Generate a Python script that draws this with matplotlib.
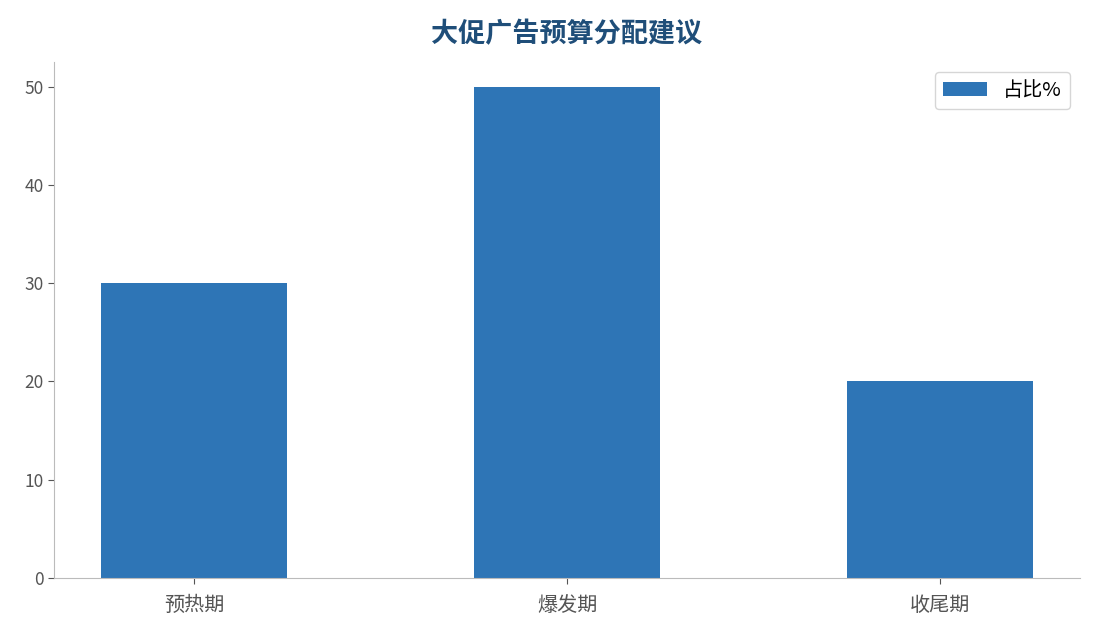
import matplotlib.pyplot as plt

plt.rcParams['font.family'] = ['Noto Sans CJK SC', 'DejaVu Sans']

stages = ['预热期', '爆发期', '收尾期']
share = [30, 50, 20]
title = '大促广告预算分配建议'
series_name = '占比%'

fig = plt.figure(figsize=(10.95, 6.3), dpi=100)
ax = fig.add_axes([0.0493, 0.0825, 0.9370, 0.8191])

ax.bar(range(len(stages)), share, width=0.5, color='#2E75B6', label=series_name)
ax.set_xticks(range(len(stages)))
ax.set_xticklabels(stages)
ax.set_xlim(-0.375, 2.375)
ax.set_ylim(0, 52.5)

for side in ['top', 'right']:
    ax.spines[side].set_visible(False)
for side in ['left', 'bottom']:
    ax.spines[side].set_color('#BBBBBB')
ax.tick_params(colors='#555555', labelsize=12.5, length=4)
ax.tick_params(axis='x', labelsize=14.5, pad=8)

ax.set_title(title, fontsize=19.5, fontweight='bold', color='#1F4E79', pad=14)
leg = ax.legend(loc='upper right', fontsize=14.5, frameon=True, fancybox=True,
                borderpad=0.4, handlelength=2.2)
leg.get_frame().set_edgecolor('#CCCCCC')

fig.savefig('out.png', dpi=100)
